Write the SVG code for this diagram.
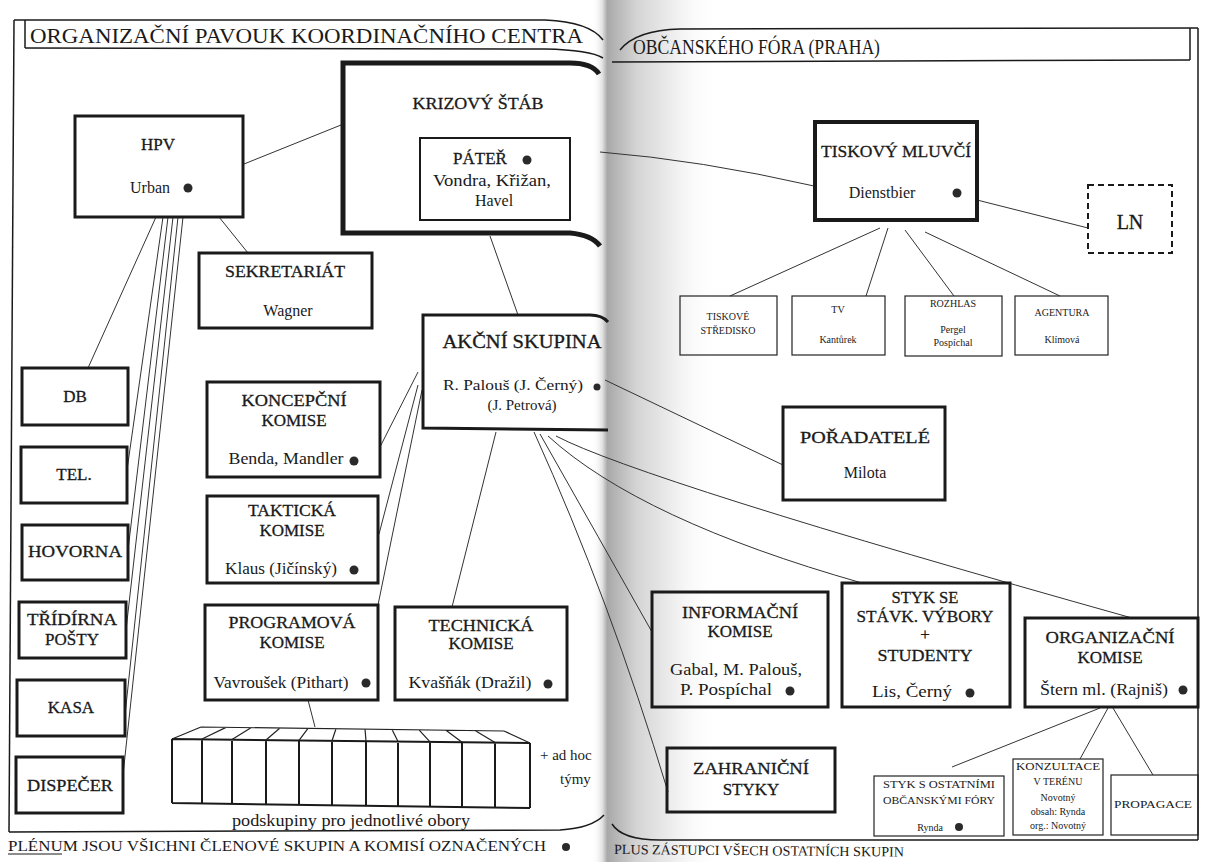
<svg xmlns="http://www.w3.org/2000/svg" width="1208" height="862" viewBox="0 0 1208 862">
<defs>
<linearGradient id="gut" x1="592" x2="720" y1="0" y2="0" gradientUnits="userSpaceOnUse">
<stop offset="0" stop-color="#ffffff" stop-opacity="0"/>
<stop offset="0.08" stop-color="#e2e2e2"/>
<stop offset="0.12" stop-color="#a8a8a8"/>
<stop offset="0.2" stop-color="#b8b8b8"/>
<stop offset="0.35" stop-color="#d4d4d4"/>
<stop offset="0.6" stop-color="#ebebeb"/>
<stop offset="1" stop-color="#ffffff" stop-opacity="0"/>
</linearGradient>
<style>
text{font-family:"Liberation Serif","Times New Roman",serif;fill:#1a1a1a}
.t{font-size:22px}
.h{font-size:17px;stroke:#1a1a1a;stroke-width:0.3;text-anchor:middle}
.n{font-size:16px;text-anchor:middle}
.s{font-size:10px;text-anchor:middle}
.f{fill:none;stroke:#1a1a1a;stroke-width:1.5}
.b2{fill:none;stroke:#1a1a1a;stroke-width:2}
.b3{fill:none;stroke:#1a1a1a;stroke-width:3}
.b4{fill:none;stroke:#1a1a1a;stroke-width:4}
.b5{fill:none;stroke:#1a1a1a;stroke-width:5}
.thin{fill:none;stroke:#222;stroke-width:1.2}
.dash{fill:none;stroke:#1a1a1a;stroke-width:2;stroke-dasharray:6 4}
.c line,.c path{stroke:#333;stroke-width:1;fill:none}
.dot{fill:#2a2a2a}
</style>
</defs>
<rect width="1208" height="862" fill="#ffffff"/>
<rect x="592" y="0" width="128" height="862" fill="url(#gut)"/>

<g id="frames">
<path class="f" d="M14,20 L545,20 Q590,22 603,40"/>
<path class="f" d="M25,48 L545,49 Q590,50 603,58"/>
<path class="f" d="M25,20 L25,48"/>
<path class="f" d="M14,20 L9,832"/>
<path class="f" d="M9,832 L560,830 Q592,828 604,815"/>
<path class="f" d="M620,50 Q636,30 680,29 L1198,28"/>
<path class="f" d="M612,62 L1190,60"/>
<path class="f" d="M1190,28 L1190,60"/>
<path class="f" d="M1198,28 L1198,840"/>
<path class="f" d="M612,824 Q622,840 660,840 L1198,840"/>
<text class="t" x="30" y="43" textLength="553" lengthAdjust="spacingAndGlyphs">ORGANIZAČNÍ PAVOUK KOORDINAČNÍHO CENTRA</text>
<text class="t" x="633" y="54" textLength="247" lengthAdjust="spacingAndGlyphs">OBČANSKÉHO FÓRA (PRAHA)</text>
</g>

<g id="connectors" class="c">
<line x1="244" y1="164" x2="341" y2="125"/>
<line x1="219" y1="217" x2="248" y2="253"/>
<line x1="490" y1="236" x2="518" y2="315"/>
<path d="M600,152 Q700,160 814,186"/>
<line x1="156" y1="217" x2="88" y2="368"/>
<line x1="163" y1="217" x2="127" y2="470"/>
<line x1="168" y1="217" x2="128" y2="550"/>
<line x1="173" y1="217" x2="126" y2="630"/>
<line x1="178" y1="217" x2="125" y2="715"/>
<line x1="183" y1="217" x2="123" y2="775"/>
<line x1="418" y1="372" x2="380" y2="447"/>
<line x1="418" y1="385" x2="379" y2="534"/>
<line x1="422" y1="390" x2="378" y2="605"/>
<line x1="496" y1="432" x2="452" y2="607"/>
<path d="M534,432 Q610,600 668,792"/>
<path d="M540,434 Q600,540 652,632"/>
<path d="M548,436 Q640,520 862,583"/>
<path d="M556,436 Q640,480 1132,618"/>
<line x1="605" y1="380" x2="783" y2="465"/>
<line x1="308" y1="700" x2="315" y2="727"/>
<line x1="977" y1="200" x2="1088" y2="228"/>
<line x1="880" y1="228" x2="730" y2="296"/>
<line x1="888" y1="228" x2="866" y2="296"/>
<line x1="905" y1="230" x2="954" y2="296"/>
<line x1="925" y1="232" x2="1060" y2="296"/>
<line x1="1100" y1="708" x2="952" y2="767"/>
<line x1="1108" y1="708" x2="1080" y2="759"/>
<line x1="1113" y1="708" x2="1153" y2="775"/>
</g>

<g id="hpv">
<rect class="b3" x="75" y="116" width="168" height="101"/>
<text class="h" x="158" y="150">HPV</text>
<text class="n" x="150" y="193">Urban</text>
<circle class="dot" cx="188" cy="188" r="4.5"/>
</g>

<g id="krizovy-stab">
<path class="b5" d="M599,74 Q592,63 570,63 L343,63 L343,233 L570,233 Q592,235 600,246"/>
<text class="h" x="478" y="109" textLength="131" lengthAdjust="spacingAndGlyphs">KRIZOVÝ ŠTÁB</text>
</g>

<g id="pater">
<rect class="b2" x="420" y="138" width="150" height="82"/>
<text class="h" x="480" y="164">PÁTEŘ</text>
<circle class="dot" cx="527" cy="160" r="4.5"/>
<text class="n" x="492" y="186" textLength="118" lengthAdjust="spacingAndGlyphs">Vondra, Křižan,</text>
<text class="n" x="494" y="206">Havel</text>
</g>

<g id="sekretariat">
<rect class="b3" x="199" y="253" width="173" height="75"/>
<text class="h" x="285" y="277" textLength="120" lengthAdjust="spacingAndGlyphs">SEKRETARIÁT</text>
<text class="n" x="288" y="316">Wagner</text>
</g>

<g id="akcni-skupina">
<path class="b3" d="M608,322 Q602,315 590,315 L423,315 L423,428 L608,430"/>
<text class="h" x="522" y="348" textLength="159" lengthAdjust="spacingAndGlyphs" style="font-size:18px">AKČNÍ SKUPINA</text>
<text class="n" x="513" y="390" style="font-size:15px" textLength="140" lengthAdjust="spacingAndGlyphs">R. Palouš (J. Černý)</text>
<circle class="dot" cx="597" cy="387" r="3.5"/>
<text class="n" x="522" y="410" style="font-size:15px">(J. Petrová)</text>
</g>

<g id="koncepcni">
<rect class="b3" x="207" y="382" width="173" height="95"/>
<text class="h" x="294" y="406" textLength="105" lengthAdjust="spacingAndGlyphs">KONCEPČNÍ</text>
<text class="h" x="294" y="426">KOMISE</text>
<text class="n" x="286" y="464" textLength="115" lengthAdjust="spacingAndGlyphs">Benda, Mandler</text>
<circle class="dot" cx="354" cy="461" r="4.5"/>
</g>

<g id="takticka">
<rect class="b3" x="207" y="496" width="171" height="87"/>
<text class="h" x="292" y="516" textLength="88" lengthAdjust="spacingAndGlyphs">TAKTICKÁ</text>
<text class="h" x="292" y="536">KOMISE</text>
<text class="n" x="281" y="574" textLength="112" lengthAdjust="spacingAndGlyphs">Klaus (Jičínský)</text>
<circle class="dot" cx="354" cy="570" r="4.5"/>
</g>

<g id="programova">
<rect class="b3" x="205" y="605" width="173" height="95"/>
<text class="h" x="292" y="628" textLength="127" lengthAdjust="spacingAndGlyphs">PROGRAMOVÁ</text>
<text class="h" x="292" y="648">KOMISE</text>
<text class="n" x="281" y="688" textLength="135" lengthAdjust="spacingAndGlyphs">Vavroušek (Pithart)</text>
<circle class="dot" cx="366" cy="683" r="4.5"/>
</g>

<g id="technicka">
<rect class="b3" x="395" y="607" width="172" height="93"/>
<text class="h" x="481" y="631" textLength="105" lengthAdjust="spacingAndGlyphs">TECHNICKÁ</text>
<text class="h" x="481" y="649">KOMISE</text>
<text class="n" x="470" y="688" textLength="123" lengthAdjust="spacingAndGlyphs">Kvašňák (Dražil)</text>
<circle class="dot" cx="548" cy="684" r="4.5"/>
</g>

<g id="podskupiny">
<path class="b2" d="M172,739 L530,743 M172,803 L530,808 M172,739 L172,803 M202,739.3 L202,803.3 M232,739.6 L232,803.6 M266,740 L266,804 M299,740.4 L299,804.4 M332,740.7 L332,805 M366,741 L366,805.5 M398,741.5 L398,806 M430,741.8 L430,806.5 M462,742.2 L462,807 M495,742.6 L495,807.5 M530,743 L530,808"/>
<path class="thin" d="M201,727 L504,731 M172,739 L201,727 M202,739 L226,727.4 M232,739.6 L251,727.7 M266,740 L280,728 M299,740.4 L308,728.4 M332,740.7 L336,728.7 M366,741 L365,729 M398,741.5 L392,729.4 M430,741.8 L419,729.8 M462,742.2 L446,730.2 M495,742.6 L475,730.6 M530,743 L504,731"/>
<text class="n" x="351" y="826" style="font-size:16px" textLength="238" lengthAdjust="spacingAndGlyphs">podskupiny pro jednotlivé obory</text>
<text x="540" y="760" style="font-size:15px">+ ad hoc</text>
<text x="560" y="784" style="font-size:15px">týmy</text>
</g>

<g id="db"><rect class="b3" x="22" y="368" width="106" height="57"/><text class="h" x="75" y="402">DB</text></g>
<g id="tel"><rect class="b3" x="21" y="447" width="106" height="56"/><text class="h" x="74" y="480">TEL.</text></g>
<g id="hovorna"><rect class="b3" x="22" y="525" width="106" height="55"/><text class="h" x="75" y="557" textLength="94" lengthAdjust="spacingAndGlyphs">HOVORNA</text></g>
<g id="tridirna"><rect class="b3" x="19" y="602" width="107" height="56"/><text class="h" x="72" y="625" textLength="90" lengthAdjust="spacingAndGlyphs">TŘÍDÍRNA</text><text class="h" x="72" y="645">POŠTY</text></g>
<g id="kasa"><rect class="b3" x="17" y="680" width="108" height="56"/><text class="h" x="71" y="713">KASA</text></g>
<g id="dispecer"><rect class="b3" x="16" y="757" width="107" height="56"/><text class="h" x="70" y="791" textLength="86" lengthAdjust="spacingAndGlyphs">DISPEČER</text></g>

<g id="tiskovy-mluvci">
<rect class="b4" x="815" y="122" width="162" height="98"/>
<text class="h" x="896" y="157" textLength="150" lengthAdjust="spacingAndGlyphs">TISKOVÝ MLUVČÍ</text>
<text class="n" x="882" y="198">Dienstbier</text>
<circle class="dot" cx="957" cy="193" r="4.5"/>
</g>

<g id="ln">
<rect class="dash" x="1088" y="185" width="84" height="68"/>
<text class="h" x="1130" y="229" style="font-size:20px">LN</text>
</g>

<g id="tiskove-stredisko"><rect class="thin" x="680" y="296" width="97" height="59"/><text class="s" x="728" y="320">TISKOVÉ</text><text class="s" x="728" y="334">STŘEDISKO</text></g>
<g id="tv"><rect class="thin" x="792" y="296" width="93" height="59"/><text class="s" x="838" y="313">TV</text><text class="s" x="838" y="343">Kantůrek</text></g>
<g id="rozhlas"><rect class="thin" x="905" y="296" width="97" height="60"/><text class="s" x="953" y="307">ROZHLAS</text><text class="s" x="953" y="333">Pergel</text><text class="s" x="953" y="346">Pospíchal</text></g>
<g id="agentura"><rect class="thin" x="1015" y="296" width="93" height="59"/><text class="s" x="1062" y="316">AGENTURA</text><text class="s" x="1062" y="343">Klímová</text></g>

<g id="poradatele">
<rect class="b3" x="783" y="407" width="162" height="93"/>
<text class="h" x="865" y="443" textLength="130" lengthAdjust="spacingAndGlyphs">POŘADATELÉ</text>
<text class="n" x="865" y="478">Milota</text>
</g>

<g id="informacni">
<rect class="b3" x="652" y="592" width="176" height="115"/>
<text class="h" x="740" y="618" textLength="116" lengthAdjust="spacingAndGlyphs">INFORMAČNÍ</text>
<text class="h" x="740" y="637">KOMISE</text>
<text class="n" x="736" y="675" textLength="132" lengthAdjust="spacingAndGlyphs">Gabal, M. Palouš,</text>
<text class="n" x="726" y="695" textLength="92" lengthAdjust="spacingAndGlyphs">P. Pospíchal</text>
<circle class="dot" cx="790" cy="691" r="4.5"/>
</g>

<g id="styk-stavk">
<rect class="b3" x="842" y="583" width="168" height="124"/>
<text class="h" x="925" y="603" textLength="67" lengthAdjust="spacingAndGlyphs">STYK SE</text>
<text class="h" x="925" y="622" textLength="137" lengthAdjust="spacingAndGlyphs">STÁVK. VÝBORY</text>
<text class="h" x="925" y="640">+</text>
<text class="h" x="925" y="661" textLength="95" lengthAdjust="spacingAndGlyphs">STUDENTY</text>
<text class="n" x="912" y="697" textLength="80" lengthAdjust="spacingAndGlyphs">Lis, Černý</text>
<circle class="dot" cx="970" cy="693" r="4.5"/>
</g>

<g id="organizacni">
<rect class="b3" x="1025" y="618" width="173" height="89"/>
<text class="h" x="1110" y="643" textLength="129" lengthAdjust="spacingAndGlyphs">ORGANIZAČNÍ</text>
<text class="h" x="1110" y="663">KOMISE</text>
<text class="n" x="1104" y="695" textLength="128" lengthAdjust="spacingAndGlyphs">Štern ml. (Rajniš)</text>
<circle class="dot" cx="1183" cy="690" r="4.5"/>
</g>

<g id="zahranicni">
<rect class="b3" x="667" y="748" width="168" height="64"/>
<text class="h" x="751" y="774" textLength="116" lengthAdjust="spacingAndGlyphs">ZAHRANIČNÍ</text>
<text class="h" x="751" y="795">STYKY</text>
</g>

<g id="styk-ostatni">
<rect class="thin" x="874" y="776" width="130" height="60"/>
<text class="s" x="939" y="788" textLength="112" lengthAdjust="spacingAndGlyphs">STYK S OSTATNÍMI</text>
<text class="s" x="939" y="804" textLength="112" lengthAdjust="spacingAndGlyphs">OBČANSKÝMI FÓRY</text>
<text class="s" x="930" y="831">Rynda</text>
<circle class="dot" cx="959" cy="827" r="4"/>
</g>

<g id="konzultace">
<rect class="thin" x="1013" y="759" width="90" height="76"/>
<text class="s" x="1058" y="770" textLength="84" lengthAdjust="spacingAndGlyphs">KONZULTACE</text>
<text class="s" x="1058" y="785">V TERÉNU</text>
<text class="s" x="1058" y="801">Novotný</text>
<text class="s" x="1058" y="815">obsah: Rynda</text>
<text class="s" x="1058" y="829">org.: Novotný</text>
</g>

<g id="propagace">
<rect class="thin" x="1111" y="775" width="87" height="60"/>
<text class="s" x="1153" y="808" textLength="78" lengthAdjust="spacingAndGlyphs">PROPAGACE</text>
</g>

<g id="footer">
<text x="8" y="851" style="font-size:14px" textLength="538" lengthAdjust="spacingAndGlyphs">PLÉNUM JSOU VŠICHNI ČLENOVÉ SKUPIN A KOMISÍ OZNAČENÝCH</text>
<line x1="8" y1="854" x2="62" y2="854" stroke="#1a1a1a" stroke-width="1"/>
<circle class="dot" cx="566" cy="847" r="4"/>
<text x="614" y="854" style="font-size:14px" textLength="290" lengthAdjust="spacingAndGlyphs" transform="rotate(0.5 614 854)">PLUS ZÁSTUPCI VŠECH OSTATNÍCH SKUPIN</text>
</g>
</svg>
